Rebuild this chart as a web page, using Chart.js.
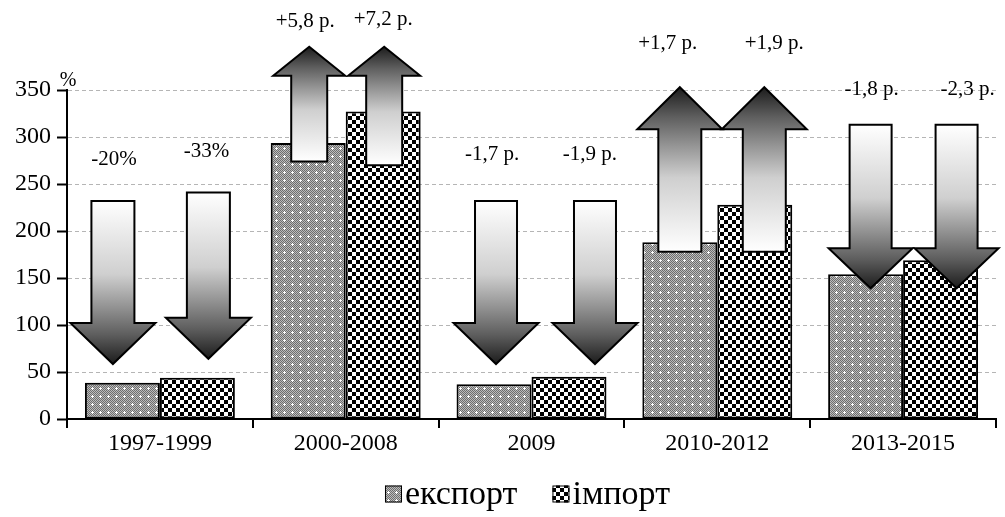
<!DOCTYPE html>
<html>
<head>
<meta charset="utf-8">
<script src="https://cdn.jsdelivr.net/npm/chart.js@4/dist/chart.umd.min.js"></script>
<style>
  html, body { margin: 0; padding: 0; background: #fff; }
  canvas { display: block; }
</style>
</head>
<body>
<canvas id="c" width="1005" height="517"></canvas>
<script>
// Періоди та значення (%, до попереднього рівня)
const categories = ['1997-1999', '2000-2008', '2009', '2010-2012', '2013-2015'];
const exportValues = [38.5, 293.5, 37, 188, 154];
const importValues = [44, 327, 45, 228, 169];
const yTickValues = [0, 50, 100, 150, 200, 250, 300, 350];
const seriesNames = ['експорт', 'імпорт'];

// Стрілки зміни: початок і кінець (у значеннях осі Y)
const exportArrowFrom = [232, 274, 232, 178, 313];
const exportArrowTo = [58.5, 396, 58.5, 353, 139];
const importArrowFrom = [241, 270, 232, 178, 313];
const importArrowTo = [64, 396, 58.5, 353, 139];
const exportChangeLabels = ['-20%', '+5,8 р.', '-1,7 р.', '+1,7 р.', '-1,8 р.'];
const importChangeLabels = ['-33%', '+7,2 р.', '-1,9 р.', '+1,9 р.', '-2,3 р.'];

const FONT = '"Liberation Serif", "Times New Roman", serif';

// Геометрія стрілок (px): ширина стовбура, ширина голови, довжина голови
const arrowShape = [
  { shaft: 43, head: 85, len: 41 },
  { shaft: 36, head: 72, len: 29 },
  { shaft: 42, head: 85, len: 41 },
  { shaft: 43, head: 85, len: 42 },
  { shaft: 42, head: 84, len: 40 }
];
// Зсув стрілок відносно центру стовпця (px) [експорт, імпорт]
const arrowShift = [[-9.5, 11], [1, 1], [2, 26], [0, 9.5], [5, 16]];
// Зсув підписів відносно верхньої точки стрілки (px)
const labelShift = [
  [{ dx: 1, dy: -41 }, { dx: -2, dy: -41 }],
  [{ dx: -4, dy: -25 }, { dx: -1, dy: -27 }],
  [{ dx: -4, dy: -46 }, { dx: -5, dy: -46 }],
  [{ dx: -12, dy: -44 }, { dx: 10, dy: -44 }],
  [{ dx: 1, dy: -35 }, { dx: 11, dy: -35 }]
];

// Візерунки заливки
function makeExportPattern(ctx) {
  const c = document.createElement('canvas');
  c.width = 8; c.height = 8;
  const g = c.getContext('2d');
  for (let y = 0; y < 8; y++) {
    for (let x = 0; x < 8; x++) {
      g.fillStyle = ((x + y) % 2 === 0) ? '#6e6e6e' : '#bcbcbc';
      g.fillRect(x, y, 1, 1);
    }
  }
  g.fillStyle = '#ffffff';
  [[4, 3], [3, 4], [4, 4], [5, 4], [4, 5]].forEach(([x, y]) => g.fillRect(x, y, 1, 1));
  return ctx.createPattern(c, 'repeat');
}
function makeImportPattern(ctx) {
  const c = document.createElement('canvas');
  c.width = 8; c.height = 8;
  const g = c.getContext('2d');
  g.fillStyle = '#ffffff';
  g.fillRect(0, 0, 8, 8);
  g.fillStyle = '#000000';
  g.fillRect(0, 0, 4, 4);
  g.fillRect(4, 4, 4, 4);
  return ctx.createPattern(c, 'repeat');
}

const canvas = document.getElementById('c');
const ctx = canvas.getContext('2d');
const exportPattern = makeExportPattern(ctx);
const importPattern = makeImportPattern(ctx);

const arrowsPlugin = {
  id: 'changeArrows',
  afterDatasetsDraw(chart) {
    const c = chart.ctx;
    const yScale = chart.scales.y;
    const sets = [
      { from: exportArrowFrom, to: exportArrowTo, labels: exportChangeLabels },
      { from: importArrowFrom, to: importArrowTo, labels: importChangeLabels }
    ];
    const tops = [];
    sets.forEach((s, di) => {
      const meta = chart.getDatasetMeta(di);
      meta.data.forEach((bar, i) => {
        const shape = arrowShape[i];
        const cx = bar.x + arrowShift[i][di];
        const y0 = yScale.getPixelForValue(s.from[i]);
        const y1 = yScale.getPixelForValue(s.to[i]);
        const dir = y1 > y0 ? 1 : -1;
        const yb = y1 - dir * shape.len;
        const sw = shape.shaft / 2, hw = shape.head / 2;
        const grad = c.createLinearGradient(cx, y0, cx, y1);
        grad.addColorStop(0, '#ffffff');
        grad.addColorStop(0.45, '#cfcfcf');
        grad.addColorStop(0.65, '#939393');
        grad.addColorStop(0.82, '#5e5e5e');
        grad.addColorStop(1, '#1c1c1c');
        c.save();
        c.beginPath();
        c.moveTo(cx - sw, y0);
        c.lineTo(cx - sw, yb);
        c.lineTo(cx - hw, yb);
        c.lineTo(cx, y1);
        c.lineTo(cx + hw, yb);
        c.lineTo(cx + sw, yb);
        c.lineTo(cx + sw, y0);
        c.closePath();
        c.fillStyle = grad;
        c.fill();
        c.lineWidth = 2;
        c.lineJoin = 'miter';
        c.strokeStyle = '#000';
        c.stroke();
        c.restore();
        tops.push({ x: cx, top: Math.min(y0, y1), text: s.labels[i], sh: labelShift[i][di] });
      });
    });
    c.save();
    c.font = '21px ' + FONT;
    c.fillStyle = '#000';
    c.textAlign = 'center';
    c.textBaseline = 'middle';
    tops.forEach(t => c.fillText(t.text, t.x + t.sh.dx, t.top + t.sh.dy));
    // позначка одиниць осі Y
    c.font = '20px ' + FONT;
    c.fillText('%', chart.scales.y.right + 1, chart.chartArea.top - 9);
    c.restore();
  }
};

const legendPlugin = {
  id: 'bottomLegend',
  afterDraw(chart) {
    const c = chart.ctx;
    const box = 17, gap = 3, between = 35;
    c.save();
    c.font = '34px ' + FONT;
    c.textBaseline = 'middle';
    c.textAlign = 'left';
    const items = chart.data.datasets.map(d => ({ label: d.label, fill: d.backgroundColor, w: box + gap + c.measureText(d.label).width }));
    const total = items.reduce((a, it) => a + it.w, 0) + between * (items.length - 1);
    let x = (chart.chartArea.left + chart.chartArea.right) / 2 - total / 2 - 4;
    const yc = 494;
    items.forEach(it => {
      c.fillStyle = it.fill;
      c.fillRect(x, yc - box / 2, box, box);
      c.lineWidth = 1;
      c.strokeStyle = '#000';
      c.strokeRect(x + 0.5, yc - box / 2 + 0.5, box - 1, box - 1);
      c.fillStyle = '#000';
      c.fillText(it.label, x + box + gap, yc + 1);
      x += it.w + between;
    });
    c.restore();
  }
};

new Chart(ctx, {
  type: 'bar',
  data: {
    labels: categories,
    datasets: [
      { label: seriesNames[0], data: exportValues, backgroundColor: exportPattern, borderColor: '#000', borderWidth: 2, borderSkipped: false },
      { label: seriesNames[1], data: importValues, backgroundColor: importPattern, borderColor: '#000', borderWidth: 2, borderSkipped: false }
    ]
  },
  options: {
    responsive: false,
    animation: false,
    devicePixelRatio: 1,
    layout: { padding: { top: 90, right: 9, bottom: 0, left: 0 } },
    datasets: { bar: { categoryPercentage: 0.807, barPercentage: 1 } },
    plugins: { legend: { display: false }, tooltip: { enabled: false } },
    scales: {
      x: {
        offset: true,
        grid: { offset: true, drawOnChartArea: false, drawTicks: true, tickLength: 9, color: '#000', lineWidth: 2 },
        border: { display: true, color: '#000', width: 2 },
        ticks: { color: '#000', font: { family: FONT, size: 24 }, padding: 1, maxRotation: 0, autoSkip: false },
        afterFit(s) { s.height = 98; }
      },
      y: {
        min: yTickValues[0],
        max: yTickValues[yTickValues.length - 1],
        afterBuildTicks(s) { s.ticks = yTickValues.map(v => ({ value: v })); },
        grid: { color: '#b5b5b5', lineWidth: 1, drawTicks: true, tickLength: 10, tickColor: '#000', tickWidth: 2, tickBorderDash: [] },
        border: { display: true, color: '#000', width: 2, dash: [4, 3] },
        ticks: { color: '#000', font: { family: FONT, size: 24 }, padding: 6 },
        afterFit(s) { s.width = 67; }
      }
    }
  },
  plugins: [arrowsPlugin, legendPlugin]
});
</script>
</body>
</html>
